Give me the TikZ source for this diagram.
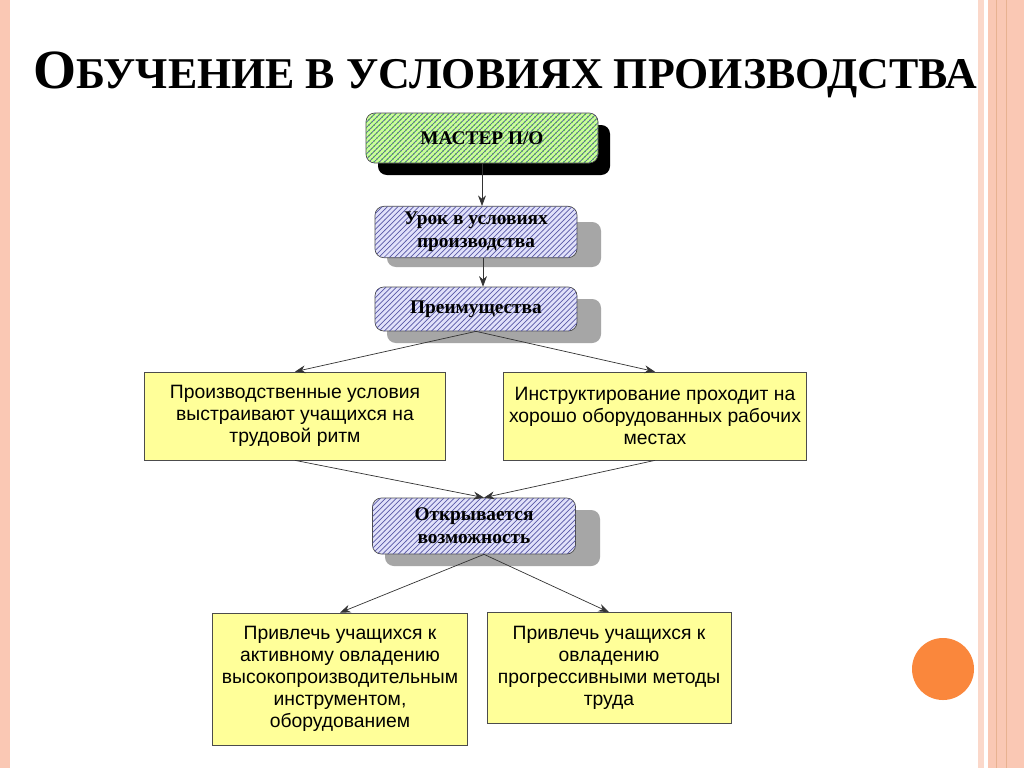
\documentclass[tikz,border=0pt]{standalone}
\usepackage{fontspec}
\setmainfont{Liberation Serif}
\setsansfont{Liberation Sans}
\usetikzlibrary{arrows.meta,patterns}
\definecolor{boxgreen}{RGB}{204,255,153}
\definecolor{boxblue}{RGB}{225,225,250}
\definecolor{boxyellow}{RGB}{255,255,153}
\definecolor{stripe}{RGB}{250,200,180}
\definecolor{dot}{RGB}{250,135,60}

\begin{document}
\begin{tikzpicture}[x=0.02cm,y=-0.02cm,
	stepbox/.style={rounded corners=5pt, draw=black!70, fill=boxblue,
		postaction={pattern=north east lines, pattern color=blue!30!gray},
		align=center, font=\bfseries\fontsize{11}{13}\selectfont},
	infobox/.style={draw=black!70, fill=boxyellow, align=center,
		font=\sffamily\fontsize{11}{12.5}\selectfont},
	link/.style={-{Stealth[length=6pt]}, black!80}]
	\useasboundingbox (0,0) rectangle (1024,768);
	\fill[white] (0,0) rectangle (1024,768);
	% side stripes
	\fill[stripe] (0,0) rectangle (10,768);
	\fill[stripe!70] (978,0) rectangle (984,768);
	\fill[stripe] (988,0) rectangle (1024,768);
	\draw[stripe!70!brown, thin] (996,0) -- (996,768) (1006,0) -- (1006,768);
	\fill[dot] (943,669) circle (31);
	% title
	\node (title) at (505,75) {\bfseries\fontsize{31.5}{32}\selectfont О\fontsize{25}{26}\selectfont БУЧЕНИЕ В УСЛОВИЯХ ПРОИЗВОДСТВА};
	% shadows
	\fill[black, rounded corners=5pt] (378,125) rectangle (610,175);
	\fill[gray!70, rounded corners=5pt] (387,222) rectangle (601,267);
	\fill[gray!70, rounded corners=5pt] (387,299) rectangle (601,343);
	\fill[gray!70, rounded corners=5pt] (385,510) rectangle (600,566);
	% boxes
	\node[stepbox, fill=boxgreen, postaction={pattern=crosshatch dots, pattern color=green!40!gray},
		minimum width=232*0.02cm, minimum height=50*0.02cm] (master) at (482,138) {МАСТЕР П/О};
	\node[stepbox, minimum width=202*0.02cm, minimum height=45*0.02cm] (lesson) at (476,232) {Урок в условиях\\производства};
	\node[stepbox, minimum width=202*0.02cm, minimum height=44*0.02cm] (benefits) at (476,309) {Преимущества};
	\node[infobox, minimum width=301*0.02cm, minimum height=88*0.02cm] (rhythm) at (295,416) {Производственные условия\\выстраивают учащихся на\\трудовой ритм};
	\node[infobox, minimum width=302*0.02cm, minimum height=88*0.02cm] (places) at (655,416) {Инструктирование проходит на\\хорошо оборудованных рабочих\\местах};
	\node[stepbox, minimum width=203*0.02cm, minimum height=56*0.02cm] (chance) at (474,526) {Открывается\\возможность};
	\node[infobox, minimum width=255*0.02cm, minimum height=132*0.02cm] (active) at (340,679) {Привлечь учащихся к\\активному овладению\\высокопроизводительным\\инструментом,\\оборудованием};
	\node[infobox, minimum width=244*0.02cm, minimum height=111*0.02cm] (methods) at (609,668) {Привлечь учащихся к\\овладению\\прогрессивными методы\\труда};
	% connectors
	\draw[link] (master.south) -- (master.south |- lesson.north);
	\draw[link] ([xshift=7*0.02cm]lesson.south) -- ([xshift=7*0.02cm]benefits.north);
	\draw[link] (benefits.south) -- (rhythm.north);
	\draw[link] (benefits.south) -- (places.north);
	\draw[link] (rhythm.south) -- ([xshift=10*0.02cm]chance.north);
	\draw[link] (places.south) -- ([xshift=10*0.02cm]chance.north);
	\draw[link] ([xshift=10*0.02cm]chance.south) -- (active.north);
	\draw[link] ([xshift=10*0.02cm]chance.south) -- (methods.north);
\end{tikzpicture}
\end{document}
